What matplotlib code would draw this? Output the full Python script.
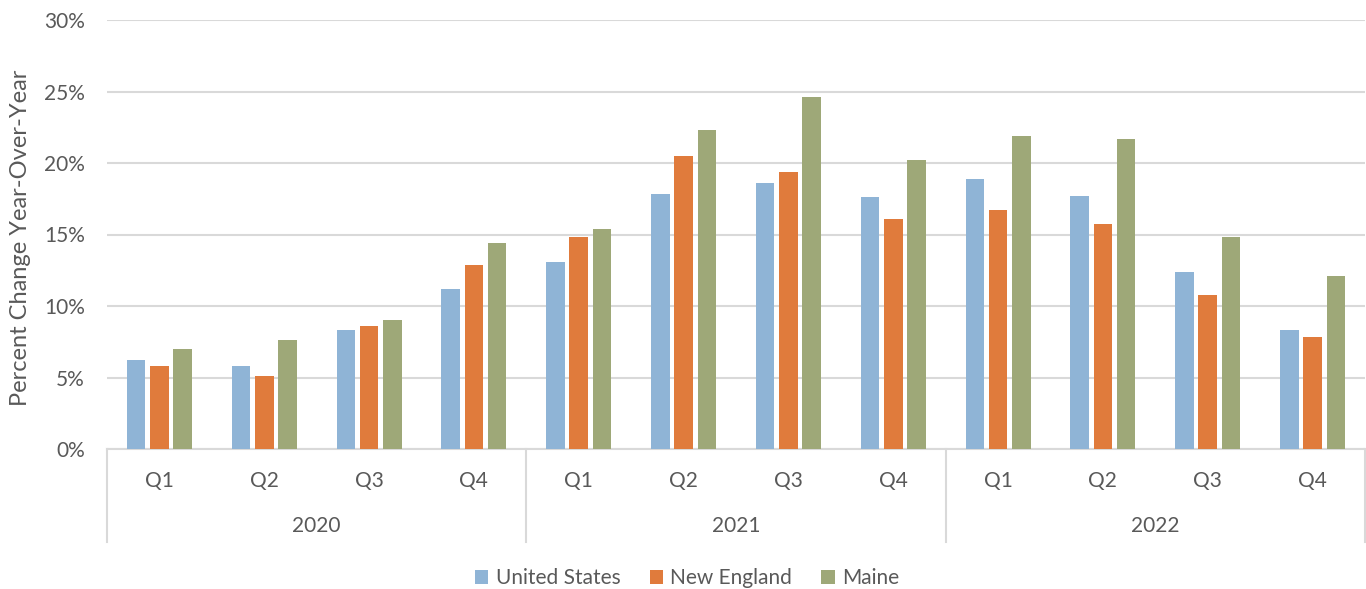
import numpy as np
import matplotlib
matplotlib.use("Agg")
import matplotlib.pyplot as plt
from matplotlib.ticker import FuncFormatter
import matplotlib.transforms as mtransforms

plt.rcParams['font.family'] = ['Lato', 'DejaVu Sans']

# data (percent change year-over-year)
years = ['2020', '2021', '2022']
quarters = ['Q1', 'Q2', 'Q3', 'Q4'] * 3
us = [6.2, 5.8, 8.3, 11.2, 13.1, 17.8, 18.6, 17.6, 18.9, 17.7, 12.4, 8.3]
new_england = [5.8, 5.1, 8.6, 12.9, 14.8, 20.5, 19.4, 16.1, 16.7, 15.7, 10.8, 7.8]
maine = [7.0, 7.6, 9.0, 14.4, 15.4, 22.3, 24.6, 20.2, 21.9, 21.7, 14.8, 12.1]

series = [('United States', us, '#8FB4D6'),
          ('New England', new_england, '#E07B3C'),
          ('Maine', maine, '#9EA878')]

text_col = '#595959'
grid_col = '#D9D9D9'
fs = 15

fig = plt.figure(figsize=(13.66, 5.89), dpi=100)
ax = fig.add_axes([107 / 1366, 1 - 449 / 589, 1258 / 1366, 429 / 589])

x = np.arange(len(us))
w = 0.177
pitch = 0.222
for i, (name, vals, col) in enumerate(series):
    ax.bar(x + (i - 1) * pitch, vals, width=w, color=col, label=name, zorder=3)

ax.set_xlim(-0.5, len(us) - 0.5)
ax.set_ylim(0, 30)
ax.set_yticks(np.arange(0, 31, 5))
ax.yaxis.set_major_formatter(FuncFormatter(lambda v, p: f'{v:.0f}%'))
ax.grid(axis='y', color=grid_col, linewidth=1.5, zorder=0)
for s in ['top', 'right', 'left']:
    ax.spines[s].set_visible(False)
ax.spines['bottom'].set_color(grid_col)
ax.spines['bottom'].set_linewidth(1.5)
ax.tick_params(axis='y', length=0, pad=16, labelsize=fs, labelcolor=text_col)
ax.tick_params(axis='x', length=0, pad=16, labelsize=fs, labelcolor=text_col)
ax.set_xticks(x)
ax.set_xticklabels(quarters)

# y-axis title placed in figure coordinates
fig.text(21 / 1366, 1 - 238 / 589, 'Percent Change Year-Over-Year', rotation=90,
         ha='center', va='center', fontsize=17, color=text_col)

# second level of the category axis: years and separators
trans = mtransforms.blended_transform_factory(ax.transData, ax.transAxes)
for k, yr in enumerate(years):
    ax.text(4 * k + 1.5, -0.18, yr, transform=trans, ha='center', va='center',
            fontsize=fs, color=text_col)
for b in [-0.5, 3.5, 7.5, 11.5]:
    ax.plot([b, b], [0, -0.217], transform=trans, color=grid_col, lw=1.5,
            clip_on=False)

leg = fig.legend(loc='center', bbox_to_anchor=(0.503, 1 - 578 / 589), ncol=3,
                 frameon=False, fontsize=fs, handlelength=0.65, handleheight=0.65,
                 handletextpad=0.35, columnspacing=1.4)
for t in leg.get_texts():
    t.set_color(text_col)

fig.savefig('out.png', dpi=100)
